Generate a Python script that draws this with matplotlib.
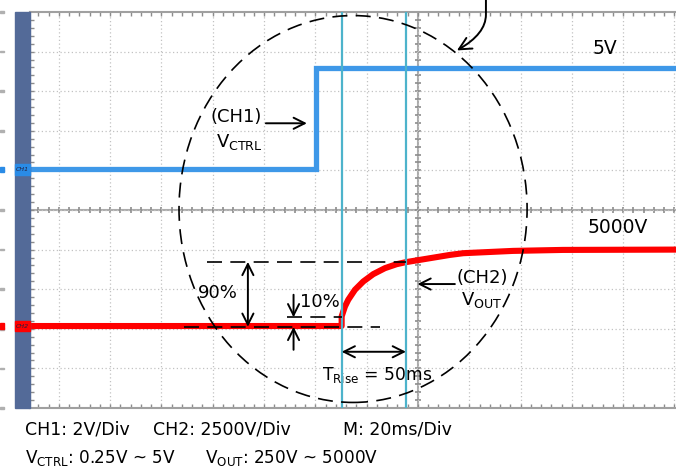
import numpy as np
import matplotlib
matplotlib.use('Agg')
import matplotlib.pyplot as plt
import matplotlib.transforms as mtrans
from matplotlib.patches import Ellipse, Rectangle, FancyArrowPatch
from matplotlib.path import Path

plt.rcParams['font.family'] = ['DejaVu Sans']
plt.rcParams['mathtext.fontset'] = 'dejavusans'

# scope settings
ms_per_div = 20
ch1_v_per_div = 2
ch2_v_per_div = 2500
ch1_ground_div = 0.9
ch2_ground_div = -3.03
t_range = (-151.4, 100.6)

# CH1: control voltage step (ms, V)
ch1_t = [-151.4, -39.9, -39.9, 100.6]
ch1_v = [0.25, 0.25, 5.37, 5.37]

# CH2: output voltage (ms, V)
ch2_t = [-151.4, -29.75, -29.75, -28.46, -27.17, -24.56, -21.33, -17.43, -12.87,
         -8.30, -4.68, 0.78, 12.48, 17.66, 37.04, 56.53, 100.6]
ch2_v = [250, 250, 855, 1485, 1908, 2538, 3060, 3525, 3903,
         4155, 4283, 4428, 4740, 4848, 4993, 5055, 5075]

# cursors and reference levels
cursor_t = [-29.75, -4.68]
level_0 = 200
level_10 = 800
level_90 = 4300


def d1(v):
    return ch1_ground_div + np.asarray(v, dtype=float) / ch1_v_per_div


def d2(v):
    return ch2_ground_div + np.asarray(v, dtype=float) / ch2_v_per_div


W, H = 676, 468
fig = plt.figure(figsize=(W / 100, H / 100), dpi=100)
ax = fig.add_axes([29.6 / W, (H - 408) / H, (676 - 29.6) / W, (408 - 12) / H])
ax.set_xlim(t_range)
ax.set_ylim(-5, 5)

# graticule
ax.set_xticks(np.arange(-140, 101, ms_per_div))
ax.set_yticks(np.arange(-4, 5, 1))
ax.set_xticks(np.arange(-148, 101, ms_per_div / 5), minor=True)
ax.set_yticks(np.arange(-4.8, 5, 0.2), minor=True)
ax.grid(True, which='major', color='#c2c2c2', lw=0.9, ls=(0, (1, 2)))
ax.tick_params(which='both', direction='in', top=True, bottom=True, left=True, right=False,
               labelleft=False, labelbottom=False, length=3, width=1, color='#8c8c8c')
for s in ['top', 'bottom', 'left']:
    ax.spines[s].set_color('#a0a0a0')
    ax.spines[s].set_linewidth(1.5)
ax.spines['right'].set_visible(False)

ax.axhline(0, color='#ababab', lw=1.5, zorder=1)
ax.axvline(0, color='#ababab', lw=1.5, zorder=1)
xt = np.arange(-148, 101, ms_per_div / 5)
yt = np.arange(-4.8, 5, 0.2)
ax.plot(xt, np.zeros_like(xt), ls='none', marker='|', ms=5, mew=1.2, color='#8c8c8c', zorder=1)
ax.plot(np.zeros_like(yt), yt, ls='none', marker='_', ms=5, mew=1.2, color='#8c8c8c', zorder=1)

# traces
ax.plot(ch1_t, d1(ch1_v), color='#3e98e8', lw=3.8, solid_joinstyle='miter', zorder=4)
ax.plot(ch2_t, d2(ch2_v), color='#ff0000', lw=4.4, solid_joinstyle='round', zorder=4)
for t in cursor_t:
    ax.axvline(t, color='#4db3cb', lw=1.6, zorder=5)

# annotations
dash = (0, (9, 5))
ax.add_patch(Ellipse((-25.3, 0.025), 135.7, 9.77, fill=False, ec='black', lw=1.2,
                     ls=dash, zorder=6, clip_on=False))
ax.plot([-82.4, cursor_t[1]], [d2(level_90)] * 2, color='black', lw=1.2, ls=dash, zorder=6)
ax.plot([-51.1, cursor_t[0]], [d2(level_10)] * 2, color='black', lw=1.2, ls=dash, zorder=6)
ax.plot([-91.2, -14.8], [d2(level_0)] * 2, color='black', lw=1.2, ls=dash, zorder=6)

arr = dict(color='black', lw=1.4, mutation_scale=20, shrinkA=0, shrinkB=0)
ax.annotate('', xy=(-66.3, d2(level_90)), xytext=(-66.3, d2(level_0)),
            arrowprops=dict(arrowstyle='<->', **arr), zorder=7)
ax.annotate('', xy=(-48.5, d2(level_10)), xytext=(-48.5, -2.14),
            arrowprops=dict(arrowstyle='->', **arr), zorder=7)
ax.annotate('', xy=(-48.5, d2(level_0)), xytext=(-48.5, -3.53),
            arrowprops=dict(arrowstyle='->', **arr), zorder=7)
ax.annotate('', xy=(cursor_t[0], -3.58), xytext=(cursor_t[1], -3.58),
            arrowprops=dict(arrowstyle='<->', **arr), zorder=7)
ax.annotate('', xy=(-43.3, 2.19), xytext=(-59.3, 2.19),
            arrowprops=dict(arrowstyle='->', **arr), zorder=7)
ax.annotate('', xy=(-0.2, -1.87), xytext=(14.4, -1.87),
            arrowprops=dict(arrowstyle='->', **arr), zorder=7)

top_path = Path([(26.5, 5.4), (26.5, 4.93), (26.5, 4.45), (15.2, 4.03)],
                [Path.MOVETO, Path.LINETO, Path.CURVE3, Path.CURVE3])
ax.add_patch(FancyArrowPatch(path=top_path, arrowstyle='->', color='black', lw=1.4,
                             mutation_scale=22, clip_on=False, zorder=7))

fs = 13
ax.text(72.9, 4.08, '5V', fontsize=13.5, ha='center', va='center')
ax.text(78.0, -0.45, '5000V', fontsize=13.5, ha='center', va='center')
ax.text(-71.0, 2.34, '(CH1)', fontsize=fs, ha='center', va='center')
ax.text(-78.8, 1.72, r'V$_{\mathrm{CTRL}}$', fontsize=fs, ha='left', va='center')
ax.text(25.0, -1.71, '(CH2)', fontsize=fs, ha='center', va='center')
ax.text(16.8, -2.27, r'V$_{\mathrm{OUT}}$', fontsize=fs, ha='left', va='center')
ax.text(-78.0, -2.09, '90%', fontsize=fs, ha='center', va='center')
ax.text(-38.2, -2.32, '10%', fontsize=fs, ha='center', va='center')
ax.text(-37.4, -4.16, r'T$_{\mathrm{Rise}}$ = 50ms', fontsize=12.3, ha='left', va='center')

# left side bar with channel markers
fig.add_artist(Rectangle((15 / W, (H - 408) / H), 14.6 / W, 396 / H,
                         transform=fig.transFigure, color='#536a98', zorder=3))
bt = mtrans.blended_transform_factory(fig.transFigure, ax.transData)
for y in np.arange(-5, 6, 1):
    fig.add_artist(Rectangle((0, y - 0.02), 4 / W, 0.04, transform=bt,
                             color='#b0b0b0', zorder=3))
for lvl, col, name in [(d1(ch1_v[0]), '#2a8be6', 'CH1'), (d2(ch2_v[0]), '#ff0000', 'CH2')]:
    fig.add_artist(Rectangle((15 / W, lvl - 0.13), 14.6 / W, 0.26, transform=bt,
                             color=col, zorder=4))
    fig.add_artist(Rectangle((0, lvl - 0.07), 4 / W, 0.14, transform=bt,
                             color=col, zorder=4))
    fig.text(22.3 / W, lvl, name, transform=bt, fontsize=4.5, color='#202040',
             ha='center', va='center', style='italic', zorder=5)

# scale and range readouts
fig.text(25 / W, 1 - 429 / H, 'CH1: 2V/Div', fontsize=12.5, va='center')
fig.text(153 / W, 1 - 429 / H, 'CH2: 2500V/Div', fontsize=12.5, va='center')
fig.text(343 / W, 1 - 429 / H, 'M: 20ms/Div', fontsize=12.5, va='center')
fig.text(25 / W, 1 - 458 / H, r'V$_{\mathrm{CTRL}}$: 0.25V ~ 5V', fontsize=12.2, va='center')
fig.text(205 / W, 1 - 458 / H, r'V$_{\mathrm{OUT}}$: 250V ~ 5000V', fontsize=12.2, va='center')

fig.savefig('out.png', dpi=100)
